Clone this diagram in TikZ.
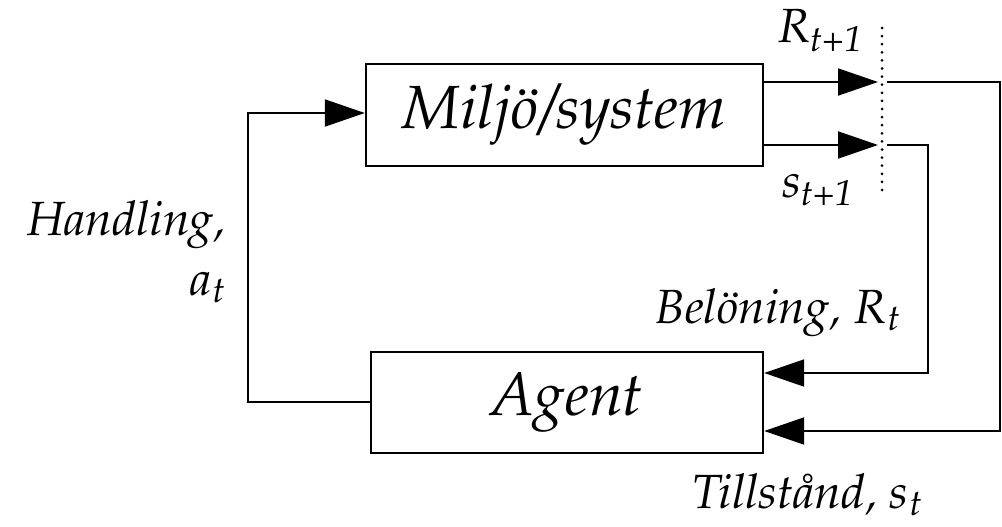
\documentclass[tikz,border=0pt]{standalone}
\usepackage[T1]{fontenc}
\usepackage{mathpazo}
\usetikzlibrary{arrows.meta}

\newcommand\blockfont{\fontsize{61}{70}\selectfont\itshape}
\newcommand\labelfont{\fontsize{48}{56}\selectfont\itshape}

\tikzset{
  block/.style={draw, line width=2.4pt, rectangle, inner sep=0pt, font=\blockfont},
  wire/.style={line width=2pt},
  flow/.style={wire, -{Triangle[length=40pt,width=27pt]}},
  lbl/.style={inner sep=0pt, font=\labelfont},
  cutline/.style={line width=3pt, line cap=round, dash pattern=on 0pt off 8.1pt}
}

\begin{document}
\begin{tikzpicture}[x=1pt,y=-1pt]
\useasboundingbox (0,0) rectangle (1002,527);

% the two blocks
\node[block, minimum width=397pt, minimum height=102pt] (env) at (564.5,115) {Milj\"o/system};
\node[block, minimum width=392pt, minimum height=101pt] (agent) at (567,402.5) {\raisebox{-3pt}{Agent}};

% corner points of the feedback wiring
\coordinate (rout) at (878,82);
\coordinate (sout) at (878,145);
\coordinate (rcont) at (887,82);
\coordinate (scont) at (887,145);
\coordinate (rtop) at (1000,82);
\coordinate (rbot) at (1000,431);
\coordinate (stop) at (928,145);
\coordinate (sbot) at (928,373);
\coordinate (abot) at (248,402);
\coordinate (atop) at (248,113);
\coordinate (cuttop) at (882,28);
\coordinate (cutbot) at (882,198);

% outputs of the environment
\draw[flow] (env.east |- rout) -- (rout);
\draw[flow] (env.east |- sout) -- (sout);

% time step boundary
\draw[cutline] (cuttop) -- (cutbot);

% reward and state fed back to the agent
\draw[flow] (rcont) -- (rtop) -- (rbot) -- (agent.east |- rbot);
\draw[flow] (scont) -- (stop) -- (sbot) -- (agent.east |- sbot);

% action from the agent to the environment
\draw[flow] (agent.west |- abot) -- (abot) -- (atop) -- (env.west |- atop);

% labels
\node[lbl, anchor=base west] (rnext) at (778,43) {R\textsubscript{\fontsize{36}{40}\selectfont t+1}};
\node[lbl, anchor=base west] (snext) at (782,197) {s\textsubscript{\fontsize{36}{40}\selectfont t+1}};
\node[lbl, anchor=base east] (rew) at (901,323) {Bel\"oning, $R_t$};
\node[lbl, anchor=base east] (state) at (923,508) {Tillst\aa nd, $s_t$};
\node[lbl, anchor=base east] (act) at (226,235) {Handling,};
\node[lbl, anchor=base east] (actsym) at (226,295) {$a_t$};
\end{tikzpicture}
\end{document}
